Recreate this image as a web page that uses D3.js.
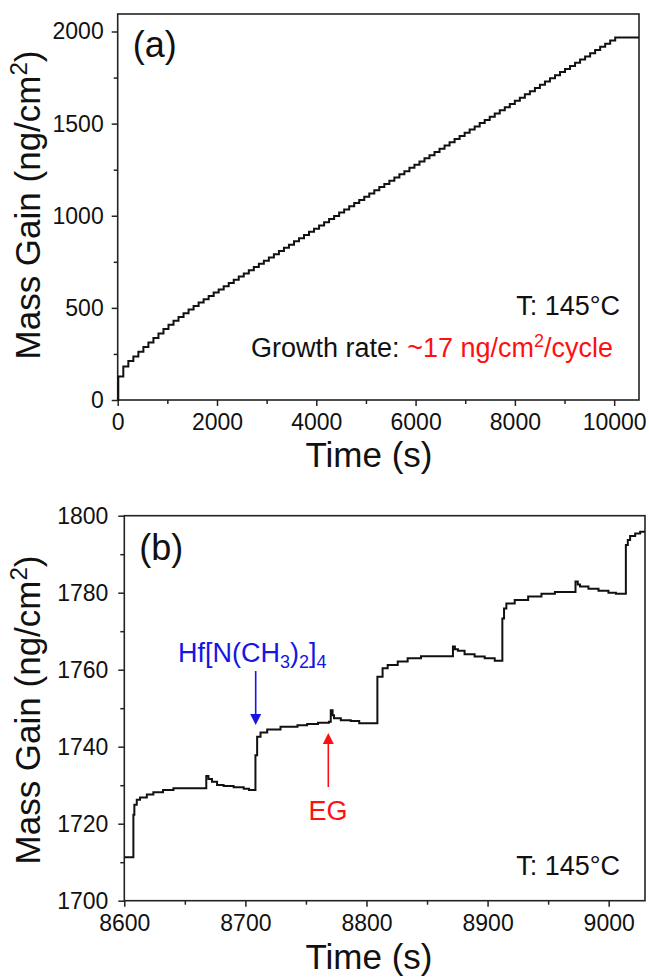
<!DOCTYPE html>
<html>
<head>
<meta charset="utf-8">
<script src="https://cdn.jsdelivr.net/npm/d3@7"></script>
<style>
  body { margin: 0; background: #fff; }
  text { font-family: "Liberation Sans", Arial, sans-serif; }
</style>
</head>
<body>
<svg id="chart" width="649" height="977"></svg>
<script>
// ---- Panel (a): full deposition run, mass after each ALD cycle ----
const firstPulseA = 12;        // s, first precursor pulse
const cyclePeriodA = 101.1;    // s per ALD cycle
const runEndA = 10500;         // s, end of recording
const cycleMassA = [
  128, 182, 212, 236, 262, 287, 312, 336, 361, 385,
  408, 430, 451, 471, 491, 510, 529, 547, 565, 583,
  600, 618, 635, 652, 670, 687, 704, 722, 739, 756,
  774, 791, 809, 826, 843, 861, 878, 895, 913, 930,
  947, 965, 982, 999, 1017, 1034, 1051, 1069, 1086, 1103,
  1121, 1138, 1156, 1173, 1190, 1208, 1225, 1242, 1260, 1277,
  1294, 1312, 1329, 1346, 1364, 1381, 1399, 1416, 1433, 1451,
  1468, 1485, 1503, 1520, 1537, 1555, 1572, 1589, 1607, 1624,
  1641, 1659, 1676, 1694, 1711, 1729, 1746, 1763, 1780, 1796,
  1813, 1830, 1848, 1865, 1882, 1899, 1917, 1934, 1951, 1968
];
const xTicksA = [0, 2000, 4000, 6000, 8000, 10000];
const xMinorA = [1000, 3000, 5000, 7000, 9000];
const yTicksA = [0, 500, 1000, 1500, 2000];
const yMinorA = [250, 750, 1250, 1750];

// ---- Panel (b): close-up of five cycles ----
const timeB = [
  8600, 8607.5, 8608.3, 8610.3, 8613, 8618.6, 8624, 8632, 8640.6,
  8667.7, 8669.5, 8672.4, 8676.6, 8682, 8690.3, 8698.6, 8703,
  8708.3, 8709.7, 8712.5, 8718, 8729, 8743, 8751, 8760, 8769,
  8770.5, 8772, 8773.2, 8778.8, 8787, 8794,
  8809, 8813.3, 8817.5, 8825.8, 8834, 8845,
  8871.4, 8873, 8875.5, 8881, 8889.3, 8897.6, 8905.9,
  8912.2, 8913.6, 8915.5, 8922.4, 8933.5, 8944.5, 8955.6,
  8972.6, 8974.5, 8976.3, 8983.3, 8991.6, 8999.8, 9006,
  9014.2, 9015.8, 9017.7, 9021.9, 9026, 9030
];
const massB = [
  1711.3, 1722.3, 1724.9, 1726.2, 1726.8, 1727.6, 1728.2, 1728.75, 1729.2,
  1732.4, 1731.6, 1730.9, 1730.05, 1729.8, 1729.45, 1729.1, 1728.75,
  1737.8, 1742.6, 1743.7, 1744.5, 1745.2, 1745.6, 1745.9, 1746.2, 1746.5,
  1749.5, 1748.2, 1747.4, 1746.9, 1746.7, 1746.1,
  1758.2, 1760.4, 1761.2, 1762.1, 1763.0, 1763.5,
  1766.0, 1765.3, 1764.9, 1764.0, 1763.4, 1763.0, 1762.3,
  1773.3, 1775.9, 1777.2, 1778.1, 1779.0, 1779.7, 1780.2,
  1782.9, 1782.1, 1781.6, 1781.0, 1780.5, 1780.0, 1779.7,
  1792.4, 1793.7, 1794.7, 1795.4, 1795.8, 1795.8
];
const xTicksB = [8600, 8700, 8800, 8900, 9000];
const xMinorB = [8650, 8750, 8850, 8950];
const yTicksB = [1700, 1720, 1740, 1760, 1780, 1800];
const yMinorB = [1710, 1730, 1750, 1770, 1790];

const svg = d3.select("#chart");
svg.append("rect").attr("width", 649).attr("height", 977).attr("fill", "#fff");

const frameColor = "#222";
const tickFont = 23;

function drawPanel(cfg) {
  const x = d3.scaleLinear().domain(cfg.xDomain).range([cfg.left, cfg.right]);
  const y = d3.scaleLinear().domain(cfg.yDomain).range([cfg.bottom, cfg.top]);
  const g = svg.append("g");

  // bottom and left axes: major + minor ticks, pointing outward
  const xa = g.append("g").attr("transform", `translate(0,${cfg.bottom})`)
    .call(d3.axisBottom(x).tickValues(cfg.xTicks).tickSize(6).tickPadding(8)
      .tickFormat(d3.format("d")));
  const xm = g.append("g").attr("transform", `translate(0,${cfg.bottom})`)
    .call(d3.axisBottom(x).tickValues(cfg.xMinor).tickSize(4).tickFormat(""));
  const ya = g.append("g").attr("transform", `translate(${cfg.left},0)`)
    .call(d3.axisLeft(y).tickValues(cfg.yTicks).tickSize(6).tickPadding(cfg.yPad)
      .tickFormat(d3.format("d")));
  const ym = g.append("g").attr("transform", `translate(${cfg.left},0)`)
    .call(d3.axisLeft(y).tickValues(cfg.yMinor).tickSize(4).tickFormat(""));

  [xa, xm, ya, ym].forEach(a => {
    a.select(".domain").remove();
    a.selectAll(".tick line").attr("stroke", frameColor).attr("stroke-width", 1.5);
    a.selectAll(".tick text")
      .attr("font-size", tickFont)
      .attr("font-family", '"Liberation Sans", Arial, sans-serif')
      .attr("fill", "#111");
  });

  // frame
  g.append("rect")
    .attr("x", cfg.left).attr("y", cfg.top)
    .attr("width", cfg.right - cfg.left).attr("height", cfg.bottom - cfg.top)
    .attr("fill", "none").attr("stroke", frameColor).attr("stroke-width", 1.6);

  // data trace
  const line = d3.line().x(d => x(d[0])).y(d => y(d[1])).curve(d3.curveStepAfter);
  g.append("path").datum(cfg.points)
    .attr("d", line)
    .attr("fill", "none").attr("stroke", "#111").attr("stroke-width", 2)
    .attr("stroke-linejoin", "miter");

  // axis titles
  g.append("text")
    .attr("x", cfg.xTitleX).attr("y", cfg.xTitleY)
    .attr("text-anchor", "middle").attr("font-size", 35).attr("fill", "#111")
    .text("Time (s)");

  const yt = g.append("text")
    .attr("transform", `translate(${cfg.yTitleX},${cfg.yTitleY}) rotate(-90)`)
    .attr("text-anchor", "middle").attr("font-size", 35).attr("fill", "#111");
  yt.append("tspan").text("Mass Gain (ng/cm");
  yt.append("tspan").attr("dy", -13).attr("font-size", 24).text("2");
  yt.append("tspan").attr("dy", 13).text(")");

  // panel letter
  g.append("text").attr("x", cfg.left + 15).attr("y", cfg.letterY)
    .attr("font-size", 36).attr("fill", "#111").text(cfg.letter);

  return { x, y, g };
}

// Panel (a) points: start at zero, step up at each cycle, hold after the last one
const pointsA = [[0, 0]];
cycleMassA.forEach((m, i) => pointsA.push([firstPulseA + i * cyclePeriodA, m]));
pointsA.push([runEndA, cycleMassA[cycleMassA.length - 1]]);

const pa = drawPanel({
  left: 117.7, right: 639, top: 14, bottom: 400,
  xDomain: [0, runEndA], yDomain: [0, 2095],
  xTicks: xTicksA, xMinor: xMinorA, yTicks: yTicksA, yMinor: yMinorA,
  yPad: 8, points: pointsA,
  xTitleX: 369, xTitleY: 467, yTitleX: 40, yTitleY: 205,
  letter: "(a)", letterY: 57
});

const pointsB = timeB.map((t, i) => [t, massB[i]]);
const pb = drawPanel({
  left: 124.3, right: 645, top: 515.7, bottom: 900.7,
  xDomain: [8600, 9030], yDomain: [1700, 1800],
  xTicks: xTicksB, xMinor: xMinorB, yTicks: yTicksB, yMinor: yMinorB,
  yPad: 10, points: pointsB,
  xTitleX: 369, xTitleY: 969, yTitleX: 40, yTitleY: 710,
  letter: "(b)", letterY: 560
});

// ---- annotations, panel (a) ----
pa.g.append("text").attr("x", 620).attr("y", 315)
  .attr("text-anchor", "end").attr("font-size", 27).attr("fill", "#111")
  .text("T: 145°C");

const gr = pa.g.append("text").attr("x", 613).attr("y", 357)
  .attr("text-anchor", "end").attr("font-size", 27).attr("fill", "#111");
gr.append("tspan").text("Growth rate: ");
gr.append("tspan").attr("fill", "#ff1010").text("~17 ng/cm");
gr.append("tspan").attr("fill", "#ff1010").attr("dy", -10).attr("font-size", 18).text("2");
gr.append("tspan").attr("fill", "#ff1010").attr("dy", 10).text("/cycle");

// ---- annotations, panel (b) ----
pb.g.append("text").attr("x", 620).attr("y", 875)
  .attr("text-anchor", "end").attr("font-size", 27).attr("fill", "#111")
  .text("T: 145°C");

const blue = "#1515e6", red = "#ff1010";
const hf = pb.g.append("text").attr("x", 178).attr("y", 662)
  .attr("font-size", 27).attr("fill", blue);
hf.append("tspan").text("Hf[N(CH");
hf.append("tspan").attr("dy", 6).attr("font-size", 18).text("3");
hf.append("tspan").attr("dy", -6).text(")");
hf.append("tspan").attr("dy", 6).attr("font-size", 18).text("2");
hf.append("tspan").attr("dy", -6).text("]");
hf.append("tspan").attr("dy", 6).attr("font-size", 18).text("4");

function arrow(g, x0, yTail, yTip, color) {
  const dir = yTip > yTail ? 1 : -1;
  const headLen = 11, headHalf = 5.5;
  g.append("line").attr("x1", x0).attr("x2", x0)
    .attr("y1", yTail).attr("y2", yTip - dir * headLen)
    .attr("stroke", color).attr("stroke-width", 1.6);
  g.append("path")
    .attr("d", `M${x0},${yTip} L${x0 - headHalf},${yTip - dir * headLen} L${x0 + headHalf},${yTip - dir * headLen} Z`)
    .attr("fill", color);
}
arrow(pb.g, 255.7, 671, 725, blue);
arrow(pb.g, 328.3, 787, 733, red);

pb.g.append("text").attr("x", 328).attr("y", 820)
  .attr("text-anchor", "middle").attr("font-size", 27).attr("fill", red)
  .text("EG");
</script>
</body>
</html>
